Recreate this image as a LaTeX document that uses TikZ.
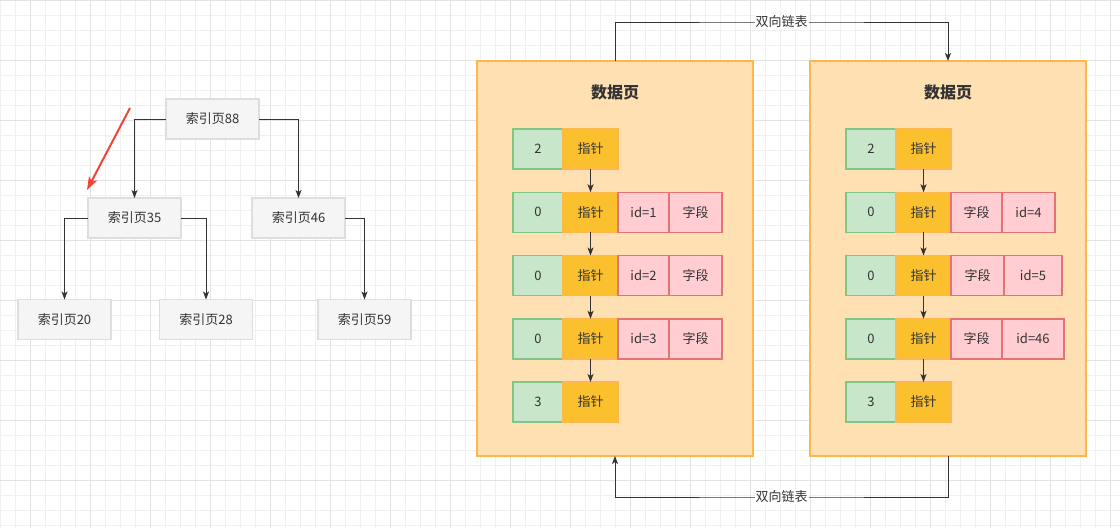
\documentclass[tikz,border=0pt]{standalone}
\usepackage{fontspec}
\newfontfamily\cjk{Noto Sans CJK SC}
\usepackage{xcolor}
\usepackage{tikz}
\usetikzlibrary{positioning,arrows.meta}
\definecolor{txt}{HTML}{333333}
\definecolor{idxfill}{HTML}{F5F5F5}
\definecolor{idxline}{HTML}{DEDEDE}
\definecolor{pagefill}{HTML}{FFE0B2}
\definecolor{pageline}{HTML}{FFB74D}
\definecolor{cntfill}{HTML}{C8E6C9}
\definecolor{cntline}{HTML}{81C784}
\definecolor{ptrfill}{HTML}{FBC02D}
\definecolor{ptrline}{HTML}{FFB74D}
\definecolor{fldfill}{HTML}{FFCDD2}
\definecolor{fldline}{HTML}{E57373}
\definecolor{hintred}{HTML}{F04438}
\definecolor{gridminor}{HTML}{F0F0F0}
\definecolor{gridmajor}{HTML}{E3E3E3}
\tikzstyle{minorline} = [draw=gridminor, line width=0.8pt]
\tikzstyle{majorline} = [draw=gridmajor, line width=1pt]
\tikzstyle{idx} = [draw=idxline, fill=idxfill, line width=1.5pt, minimum width=93pt, minimum height=40pt, inner sep=0pt, outer sep=0pt, text=txt, font=\cjk\fontsize{13}{15}\selectfont]
\tikzstyle{page} = [draw=pageline, fill=pagefill, line width=1.5pt, minimum width=276pt, minimum height=395pt, inner sep=0pt, outer sep=0pt]
\tikzstyle{pagetitle} = [text=txt, font=\cjk\bfseries\fontsize{16}{18}\selectfont]
\tikzstyle{cnt} = [draw=cntline, fill=cntfill, line width=1.5pt, minimum width=50pt, minimum height=40pt, inner sep=0pt, outer sep=0pt, text=txt, font=\cjk\fontsize{13}{15}\selectfont]
\tikzstyle{ptr} = [draw=ptrline, fill=ptrfill, line width=1.5pt, minimum width=55pt, minimum height=40pt, inner sep=0pt, outer sep=0pt, text=txt, font=\cjk\fontsize{13}{15}\selectfont]
\tikzstyle{fld} = [draw=fldline, fill=fldfill, line width=1.5pt, minimum width=51pt, minimum height=40pt, inner sep=0pt, outer sep=0pt, text=txt, font=\cjk\fontsize{13}{15}\selectfont]
\tikzstyle{link} = [draw=txt, line width=1pt, -{Stealth[length=8pt,width=6pt,inset=2pt]}]
\tikzstyle{hint} = [draw=hintred, line width=2pt, -{Stealth[length=13pt,width=9pt,inset=3pt]}]
\tikzstyle{lbl} = [fill=white, inner sep=1pt, text=txt, font=\cjk\fontsize{13}{15}\selectfont]

\begin{document}
\begin{tikzpicture}[x=1pt,y=-1pt]
		\useasboundingbox (0,0) rectangle (1120,528);
		\foreach \gx in {0,15,...,1120} \draw[minorline] (\gx,0) -- (\gx,528);
		\foreach \gy in {0,15,...,528} \draw[minorline] (0,\gy) -- (1120,\gy);
		\foreach \gx in {30,90,...,1110} \draw[majorline] (\gx,0) -- (\gx,528);
		\foreach \gy in {0,60,...,480} \draw[majorline] (0,\gy) -- (1120,\gy);
		
		\node [idx] (idx88) at (212.5,119) {索引页88};
		\node [idx] (idx35) at (134.5,218) {索引页35};
		\node [idx] (idx46) at (298.5,218) {索引页46};
		\node [idx] (idx20) at (64.5,319.5) {索引页20};
		\node [idx] (idx28) at (206,319.5) {索引页28};
		\node [idx] (idx59) at (364.5,319.5) {索引页59};
		
		\draw [link] (idx88.west) -| (idx35.north);
		\draw [link] (idx88.east) -| (idx46.north);
		\draw [link] (idx35.west) -| (idx20.north);
		\draw [link] (idx35.east) -| (idx28.north);
		\draw [link] (idx46.east) -| (idx59.north);
		
		\coordinate (hinttail) at (130,108);
		\coordinate (hinthead) at (87,190);
		\draw [hint] (hinttail) -- (hinthead);
		
		\node [page] (page1) at (615,258.5) {};
		\node [pagetitle, below=20pt of page1.north] (head1) {数据页};
		\node [cnt] (cnt11) at (538,149) {2};
		\node [ptr, right=0pt of cnt11] (ptr11) {指针};
		\node [cnt, below=23.25pt of cnt11] (cnt12) {0};
		\node [ptr, right=0pt of cnt12] (ptr12) {指针};
		\node [fld, right=0pt of ptr12] (id12) {id=1};
		\node [fld, minimum width=53pt, right=0pt of id12] (fd12) {字段};
		\node [cnt, below=23.25pt of cnt12] (cnt13) {0};
		\node [ptr, right=0pt of cnt13] (ptr13) {指针};
		\node [fld, right=0pt of ptr13] (id13) {id=2};
		\node [fld, minimum width=53pt, right=0pt of id13] (fd13) {字段};
		\node [cnt, below=23.25pt of cnt13] (cnt14) {0};
		\node [ptr, right=0pt of cnt14] (ptr14) {指针};
		\node [fld, right=0pt of ptr14] (id14) {id=3};
		\node [fld, minimum width=53pt, right=0pt of id14] (fd14) {字段};
		\node [cnt, below=23.25pt of cnt14] (cnt15) {3};
		\node [ptr, right=0pt of cnt15] (ptr15) {指针};
		
		\draw [link] (ptr11) -- (ptr12);
		\draw [link] (ptr12) -- (ptr13);
		\draw [link] (ptr13) -- (ptr14);
		\draw [link] (ptr14) -- (ptr15);
		
		\node [page] (page2) at (948,258.5) {};
		\node [pagetitle, below=20pt of page2.north] (head2) {数据页};
		\node [cnt] (cnt21) at (871,149) {2};
		\node [ptr, right=0pt of cnt21] (ptr21) {指针};
		\node [cnt, below=23.25pt of cnt21] (cnt22) {0};
		\node [ptr, right=0pt of cnt22] (ptr22) {指针};
		\node [fld, right=0pt of ptr22] (fd22) {字段};
		\node [fld, minimum width=53pt, right=0pt of fd22] (id22) {id=4};
		\node [cnt, below=23.25pt of cnt22] (cnt23) {0};
		\node [ptr, right=0pt of cnt23] (ptr23) {指针};
		\node [fld, minimum width=53pt, right=0pt of ptr23] (fd23) {字段};
		\node [fld, minimum width=58pt, right=0pt of fd23] (id23) {id=5};
		\node [cnt, below=23.25pt of cnt23] (cnt24) {0};
		\node [ptr, right=0pt of cnt24] (ptr24) {指针};
		\node [fld, right=0pt of ptr24] (fd24) {字段};
		\node [fld, minimum width=62pt, right=0pt of fd24] (id24) {id=46};
		\node [cnt, below=23.25pt of cnt24] (cnt25) {3};
		\node [ptr, right=0pt of cnt25] (ptr25) {指针};
		
		\draw [link] (ptr21) -- (ptr22);
		\draw [link] (ptr22) -- (ptr23);
		\draw [link] (ptr23) -- (ptr24);
		\draw [link] (ptr24) -- (ptr25);
		
		\coordinate (toprail) at (781.5,22);
		\coordinate (botrail) at (781.5,497);
		\draw [link] (page1.north) |- (toprail) -| (page2.north);
		\node [lbl] (toplbl) at (toprail) {双向链表};
		\draw [link] (page2.south) |- (botrail) -| (page1.south);
		\node [lbl] (botlbl) at (botrail) {双向链表};
	\end{tikzpicture}
\end{document}
